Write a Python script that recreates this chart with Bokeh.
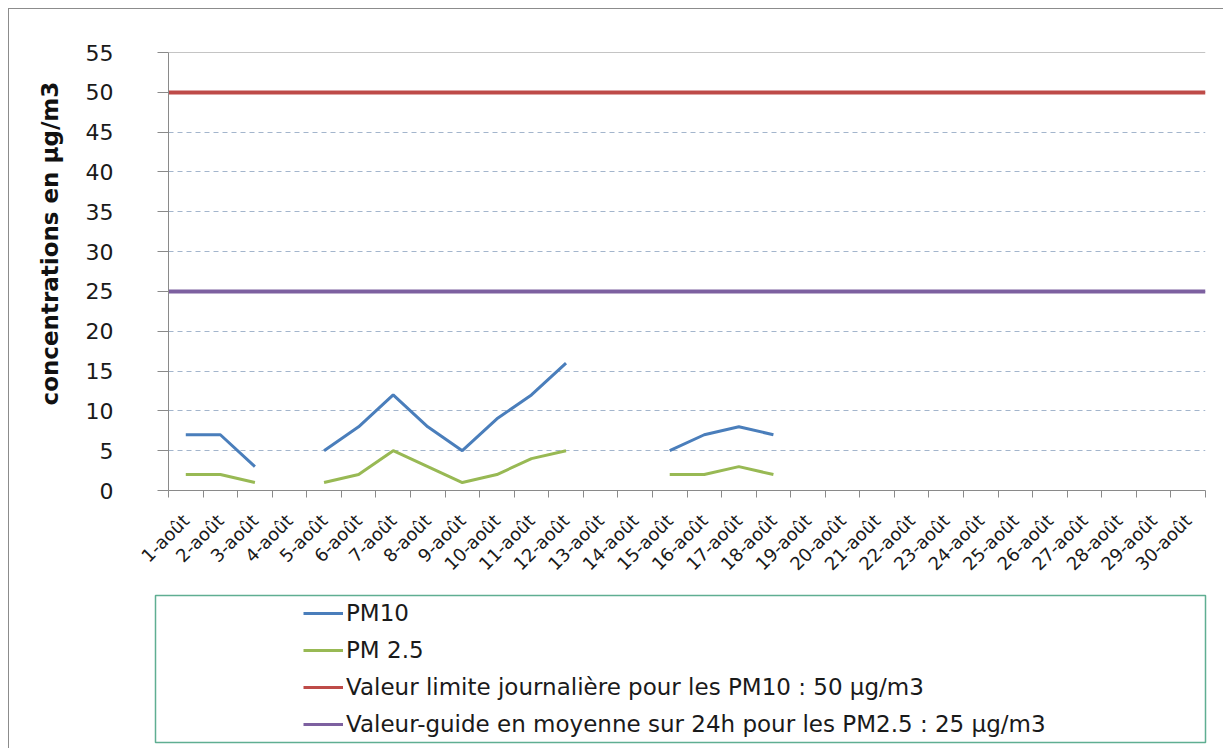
import math
from bokeh.plotting import figure
from bokeh.layouts import column
from bokeh.models import (FactorRange, Range1d, LinearAxis, FixedTicker, CustomJSTickFormatter,
                          Span, Legend, LegendItem, ColumnDataSource, Title)
from bokeh.embed import file_html
from bokeh.resources import INLINE

nan = float("nan")

days = ["1-août", "2-août", "3-août", "4-août", "5-août", "6-août", "7-août", "8-août",
        "9-août", "10-août", "11-août", "12-août", "13-août", "14-août", "15-août",
        "16-août", "17-août", "18-août", "19-août", "20-août", "21-août", "22-août",
        "23-août", "24-août", "25-août", "26-août", "27-août", "28-août", "29-août", "30-août"]

pm10 = [7, 7, 3, nan, 5, 8, 12, 8, 5, 9, 12, 16, nan, nan, 5, 7, 8, 7,
        nan, nan, nan, nan, nan, nan, nan, nan, nan, nan, nan, nan]
pm25 = [2, 2, 1, nan, 1, 2, 5, 3, 1, 2, 4, 5, nan, nan, 2, 2, 3, 2,
        nan, nan, nan, nan, nan, nan, nan, nan, nan, nan, nan, nan]

limit_pm10 = 50
guide_pm25 = 25

y_ticks = [0, 5, 10, 15, 20, 25, 30, 35, 40, 45, 50, 55]

y_title = "concentrations  en  µg/m3"
labels = ["PM10", "PM 2.5",
          "Valeur limite journalière pour les PM10 : 50 µg/m3",
          "Valeur-guide en moyenne sur 24h pour les PM2.5 : 25 µg/m3"]
colors = ["#4a7ebb", "#98b954", "#be4b48", "#7d60a0"]

FONT = "DejaVu Sans"
GRAY = "#8a8a8a"

# ---------------- chart ----------------
p = figure(x_range=FactorRange(*days), y_range=Range1d(0, 55),
           width=1214, height=581, output_backend="svg", toolbar_location=None,
           x_axis_type=None, min_border_left=159, min_border_right=18,
           min_border_top=43, min_border_bottom=100)
p.frame_align = False
p.outline_line_color = None

yax = p.yaxis[0]
yax.ticker = FixedTicker(ticks=y_ticks)
yax.axis_line_color = GRAY
yax.major_tick_line_color = GRAY
yax.major_tick_out = 11
yax.major_tick_in = 0
yax.minor_tick_line_color = None
yax.major_label_standoff = 44
yax.major_label_text_font = FONT
yax.major_label_text_font_size = "22px"
yax.major_label_text_color = "#1a1a1a"

ytitle = Title(text=y_title, align="left", offset=85, standoff=39,
               text_font=FONT, text_font_style="bold", text_font_size="23px",
               text_color="#111111")
p.add_layout(ytitle, "left")

n = len(days)
xax = LinearAxis(
    ticker=FixedTicker(ticks=[i + 0.5 for i in range(n)], minor_ticks=list(range(n + 1))),
    formatter=CustomJSTickFormatter(args=dict(labels=days),
                                    code="const i = Math.floor(tick); return (i >= 0 && i < labels.length) ? labels[i] : '';"),
)
xax.axis_line_color = GRAY
xax.major_tick_line_color = None
xax.minor_tick_line_color = GRAY
xax.minor_tick_out = 7
xax.minor_tick_in = 0
xax.major_label_orientation = math.pi / 4
xax.major_label_standoff = 20
xax.major_label_text_font = FONT
xax.major_label_text_font_size = "18px"
xax.major_label_text_color = "#1a1a1a"
p.add_layout(xax, "below")

p.xgrid.visible = False
p.ygrid.grid_line_color = "#a3b5cc"
p.ygrid.grid_line_dash = "5 4"
p.ygrid.grid_line_width = 1

p.add_layout(Span(location=y_ticks[-1], dimension="width", line_color=GRAY, line_width=1))

src = ColumnDataSource(dict(day=days, pm10=pm10, pm25=pm25))
p.line("day", "pm10", source=src, line_color=colors[0], line_width=3)
p.line("day", "pm25", source=src, line_color=colors[1], line_width=3)
p.hspan(y=[limit_pm10], line_color=colors[2], line_width=4)
p.hspan(y=[guide_pm25], line_color=colors[3], line_width=4)

# ---------------- legend panel ----------------
lg = figure(width=1214, height=158, output_backend="svg", toolbar_location=None,
            x_axis_type=None, y_axis_type=None, x_range=Range1d(0, 1), y_range=Range1d(0, 1),
            min_border_left=146, min_border_right=18, min_border_top=5, min_border_bottom=6)
lg.frame_align = False
lg.grid.visible = False
lg.outline_line_color = "#5fae92"
lg.outline_line_width = 1.5

items = []
for lab, col in zip(labels, colors):
    # legend-key proxies: one empty (NaN) point, nothing is drawn in the panel
    r = lg.line(x=[nan], y=[nan], line_color=col, line_width=3)
    items.append(LegendItem(label=lab, renderers=[r]))

legend = Legend(items=items, location=(148, 3))
legend.border_line_alpha = 0
legend.background_fill_alpha = 0
legend.padding = 0
legend.margin = 0
legend.spacing = 7
legend.label_height = 30
legend.glyph_height = 30
legend.glyph_width = 40
legend.label_standoff = 3
legend.label_text_font = FONT
legend.label_text_font_size = "23px"
legend.label_text_color = "#1a1a1a"
lg.add_layout(legend)

layout = column(p, lg, spacing=0, margin=(8, 0, 0, 8),
                styles={"border-left": "1px solid #8c8c8c", "border-top": "1px solid #8c8c8c"})

open("out.html", "w").write(file_html(layout, INLINE))
